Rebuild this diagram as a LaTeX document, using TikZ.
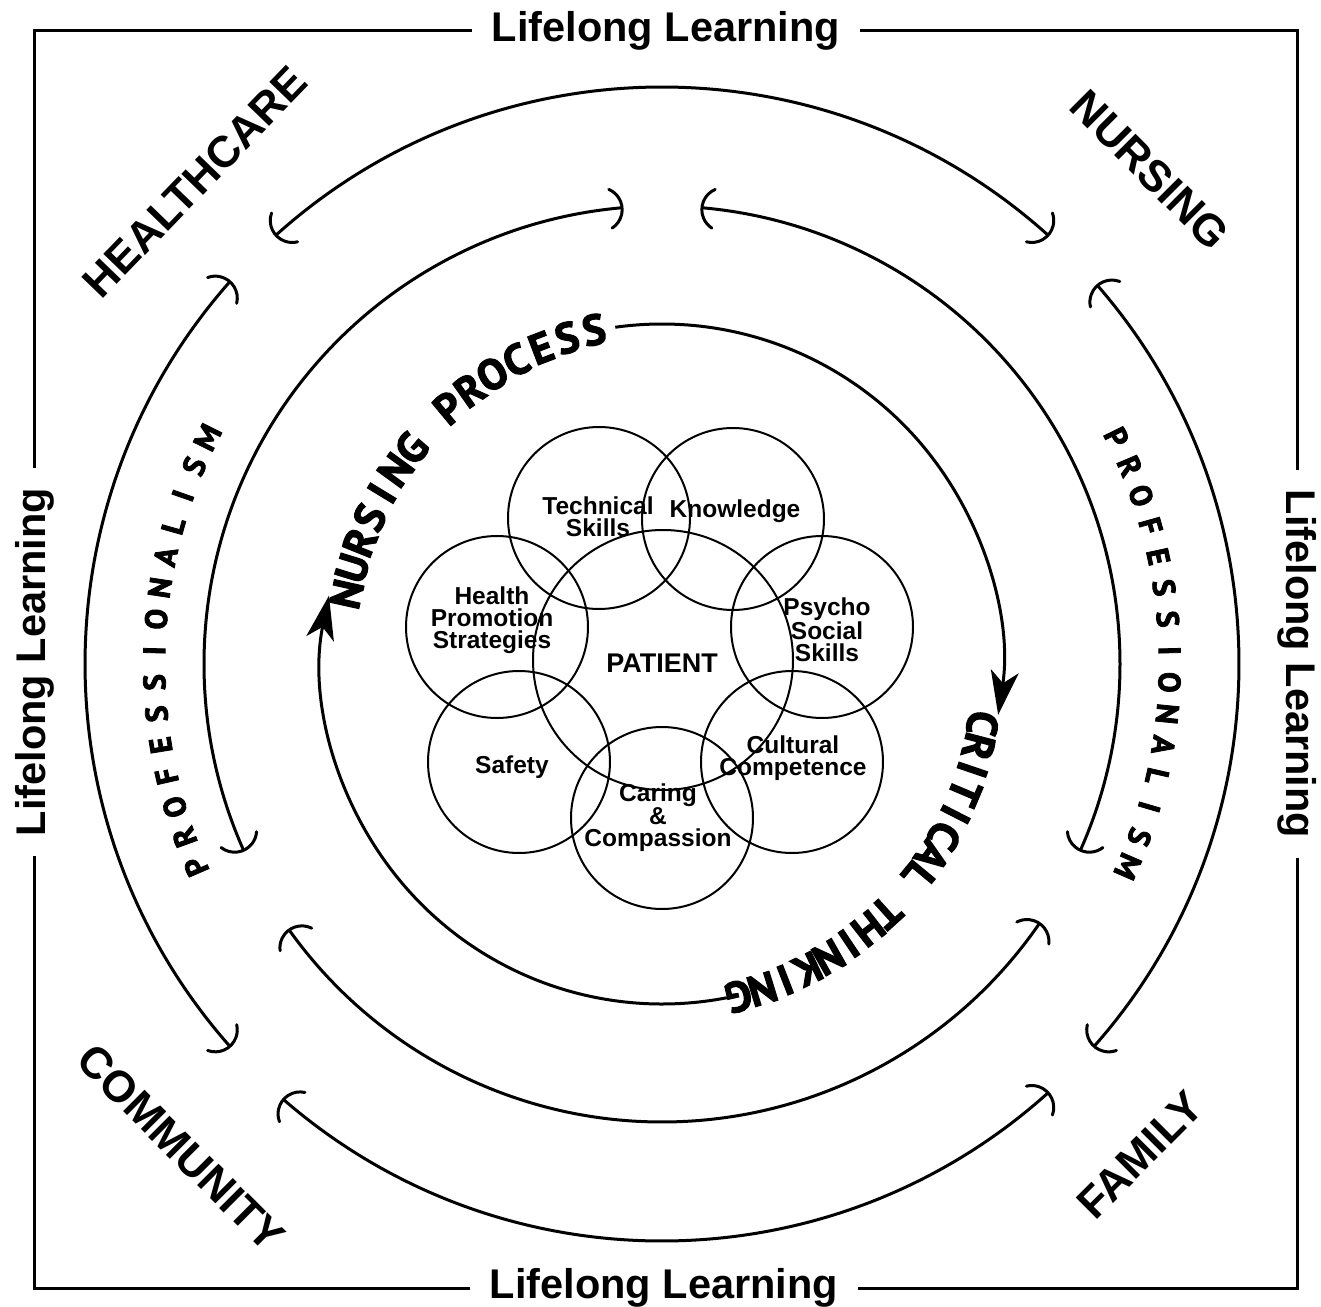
\documentclass[tikz,border=0pt]{standalone}
\usepackage{fontspec}
\setmainfont{Liberation Sans}
\newfontfamily\hum{PT Sans}[BoldFont={PT Sans Bold},BoldFeatures={FakeBold=2.5}]
\usetikzlibrary{arrows.meta,calc}
\makeatletter
% letters placed one by one along a clockwise arc, tops outward
\newcommand\ArcText[8]{% #1 prefix, #2 font, #3 rb1, #4 rb2, #5 a1, #6 a2, #7 half cap, #8 letters
  \gdef\AT@sum{0}\gdef\AT@n{0}%
  \foreach \ch in {#8}{%
    \setbox0=\hbox{#2\ch}%
    \pgfmathparse{\AT@sum+\the\wd0}\xdef\AT@sum{\pgfmathresult}%
    \pgfmathparse{\AT@n+1}\xdef\AT@n{\pgfmathresult}%
  }%
  \pgfmathsetmacro\AT@L{abs(#6-#5)*pi/180*((#3+#4)/2+#7)}%
  \pgfmathsetmacro\AT@t{(\AT@L-\AT@sum)/(\AT@n-1)}%
  \gdef\AT@cum{0}%
  \foreach \ch [count=\i] in {#8}{%
    \setbox0=\hbox{#2\ch}%
    \pgfmathsetmacro\AT@f{(\AT@cum+0.5*\the\wd0)/\AT@L}%
    \pgfmathsetmacro\AT@a{#5+(#6-#5)*\AT@f}%
    \pgfmathsetmacro\AT@r{#3+(#4-#3)*\AT@f}%
    \pgfmathsetmacro\AT@rot{\AT@a-90}%
    \node[anchor=base,inner sep=0pt,rotate=\AT@rot] (#1\i) at (\AT@a:\AT@r) {#2\ch};%
    \pgfmathparse{\AT@cum+\the\wd0+\AT@t}\xdef\AT@cum{\pgfmathresult}%
  }%
}
\makeatother
\newcommand\BarTip[3]{% ring radius, angle, travel direction
  \begin{scope}[shift={(#2:#1)},rotate=#3]
    \draw[ring,line cap=round] (-22,0) ++(-62:22) arc[start angle=-62,end angle=62,radius=22];
  \end{scope}}
\newcommand\RingArc[3]{% radius, low angle, high angle
  \draw[ring] (#2:#1) arc[start angle=#2,end angle=#3,radius=#1];
  \pgfmathsetmacro\tipA{#2-90}\pgfmathsetmacro\tipB{#3+90}%
  \BarTip{#1}{#2}{\tipA}\BarTip{#1}{#3}{\tipB}}
\newcommand\humbig{\hum\bfseries\fontsize{43}{43}\selectfont}
\newcommand\humsmall{\hum\bfseries\fontsize{31}{31}\selectfont}
\tikzset{
  ring/.style={line width=3pt},
  framel/.style={line width=3pt},
  vc/.style={circle,draw,line width=2pt,inner sep=0pt,minimum size=182pt},
  bigword/.style={font=\bfseries\fontsize{44}{44}\selectfont,inner sep=0pt},
  lifel/.style={font=\bfseries\fontsize{41.5}{41.5}\selectfont,inner ysep=0pt,inner xsep=20pt},
  lab/.style={font=\bfseries\fontsize{24.5}{22}\selectfont,align=center,inner sep=0pt},
  stk/.style={-{Stealth[length=44pt,width=28pt,inset=12pt]}}
}
\begin{document}
\begin{tikzpicture}[x=1pt,y=1pt]
\fill[white] (-662,-642) rectangle (659,664);
\useasboundingbox (-662,-642) rectangle (659,664);
% frame
\coordinate (tl) at (-627,633);
\coordinate (tr) at (635,633);
\coordinate (bl) at (-627,-624);
\coordinate (br) at (635,-624);
\node[lifel] (Ltop) at (4,633) {Lifelong Learning};
\node[lifel] (Lbot) at (2,-624) {Lifelong Learning};
\node[lifel,rotate=90] (Lleft) at (-627,2) {Lifelong Learning};
\node[lifel,rotate=-90] (Lright) at (635,0) {Lifelong Learning};
\draw[framel] (Ltop.west) -- (tl) -- (Lleft.east);
\draw[framel] (Lleft.west) -- (bl) -- (Lbot.west);
\draw[framel] (Lbot.east) -- (br) -- (Lright.east);
\draw[framel] (Lright.west) -- (tr) -- (Ltop.east);
% corner words
\node[bigword,rotate=46] (hc) at (-467,482) {HEALTHCARE};
\node[bigword,rotate=-45] (ns) at (488,494) {NURSING};
\node[bigword,rotate=-45] (cm) at (-481,-484) {COMMUNITY};
\node[bigword,rotate=45] (fm) at (478,-491) {FAMILY};
% ring 1
\RingArc{577}{48}{132}
\RingArc{577}{138.5}{221.5}
\RingArc{577}{229}{312}
\RingArc{577}{-41.5}{41}
% ring 2
\RingArc{458}{95}{204}
\RingArc{458}{-24}{85}
\RingArc{458}{215.5}{325.5}
% professionalism
\ArcText{pl}{\humsmall}{497}{497}{203.5}{153.5}{11}{P,R,O,F,E,S,S,I,O,N,A,L,I,S,M}
\ArcText{pr}{\humsmall}{497}{497}{26.5}{-23.5}{11}{P,R,O,F,E,S,S,I,O,N,A,L,I,S,M}
% ring 3
\draw[ring,stk] (97.9:340) arc[start angle=97.9,end angle=-8.6,radius=340];
\draw[ring,stk] (281:340) arc[start angle=281,end angle=168.4,radius=340];
\ArcText{np}{\humbig}{308}{326}{167.5}{101.5}{15}{N,U,R,S,I,N,G,~,P,R,O,C,E,S,S}
\ArcText{ct}{\humbig}{311}{326}{-10.5}{-77}{15}{C,R,I,T,I,C,A,L,~,T,H,I,N,K,I,N,G}
% circles
\node[vc,minimum size=260pt] (cpat) at (1,4) {};
\node[vc] (ctech) at (-63,146) {};
\node[vc] (cknow) at (71,145) {};
\node[vc] (chealth) at (-165,37) {};
\node[vc] (cpsy) at (160,37) {};
\node[vc] (csafe) at (-143,-98) {};
\node[vc] (ccult) at (130,-98) {};
\node[vc] (ccare) at (0,-154) {};
\node[lab] (ttech) at (-64,147) {Technical\\Skills};
\node[lab] (tknow) at (73,153) {Knowledge};
\node[lab] (thealth) at (-170,44) {Health\\Promotion\\Strategies};
\node[lab] (tpsy) at (165,34) {Psycho\\Social\\Skills};
\node[lab,font=\bfseries\fontsize{27}{27}\selectfont] (tpat) at (0,1) {PATIENT};
\node[lab] (tsafe) at (-150,-103) {Safety};
\node[lab] (tcult) at (131,-94) {Cultural\\Competence};
\node[lab] (tcare) at (-4,-154) {Caring\\\&\\Compassion};
\end{tikzpicture}
\end{document}
